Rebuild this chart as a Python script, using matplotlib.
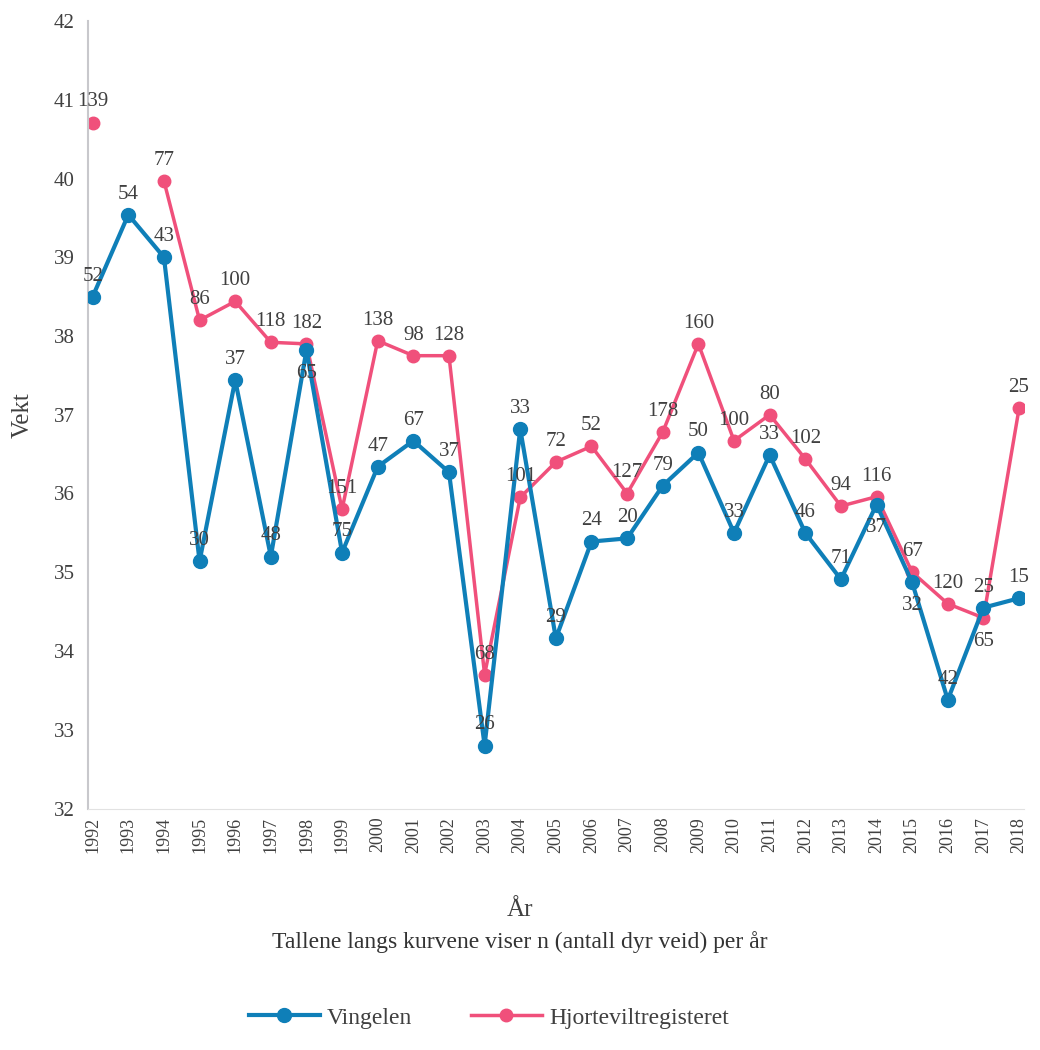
import numpy as np
import matplotlib
matplotlib.use("Agg")
import matplotlib.pyplot as plt

years = list(range(1992, 2019))

vingelen = [38.5, 39.54, 39.0, 35.14, 37.44, 35.2, 37.82, 35.25, 36.34, 36.67, 36.27,
            32.8, 36.82, 34.16, 35.39, 35.43, 36.1, 36.52, 35.5, 36.49, 35.5, 34.91,
            35.86, 34.87, 33.38, 34.55, 34.67]
vingelen_n = [52, 54, 43, 30, 37, 48, 65, 75, 47, 67, 37, 26, 33, 29, 24, 20, 79, 50,
              33, 33, 46, 71, 37, 32, 42, 25, 15]

hjort = [40.71, np.nan, 39.97, 38.2, 38.44, 37.92, 37.9, 35.8, 37.94, 37.75, 37.75,
         33.7, 35.95, 36.4, 36.6, 36.0, 36.78, 37.9, 36.67, 37.0, 36.44, 35.84,
         35.96, 35.0, 34.6, 34.42, 37.08]
hjort_n = [139, None, 77, 86, 100, 118, 182, 151, 138, 98, 128, 68, 101, 72, 52, 127,
           178, 160, 100, 80, 102, 94, 116, 67, 120, 65, 25]

# labels that would collide: put the blue one under its point (pink one under for 2017)
blue_below = [1998, 2014, 2015]
pink_below = [2017]

blue = "#0f7fb8"
pink = "#f0507b"
txt = "#404040"

plt.rcParams["font.family"] = ["Liberation Serif", "DejaVu Serif"]

fig = plt.figure(figsize=(10.4, 10.5), dpi=100)
ax = fig.add_axes([0.085, 0.23, 0.9, 0.75])

ax.plot(years, vingelen, color=blue, lw=3, marker="o", ms=10, label="Vingelen", zorder=3)
ax.plot(years, hjort, color=pink, lw=2.5, marker="o", ms=9, label="Hjorteviltregisteret",
        zorder=2)


def label(x, y, n, below):
    if below:
        ax.annotate(str(n), (x, y), xytext=(0, -10), textcoords="offset points",
                    ha="center", va="top", fontsize=15, color=txt)
    else:
        ax.annotate(str(n), (x, y), xytext=(0, 8), textcoords="offset points",
                    ha="center", va="bottom", fontsize=15, color=txt)


for x, y, n in zip(years, vingelen, vingelen_n):
    label(x, y, n, x in blue_below)
for x, y, n in zip(years, hjort, hjort_n):
    if n is None:
        continue
    label(x, y, n, x in pink_below)

ax.set_xlim(1991.88, 2018.15)
ax.set_ylim(32, 42)
ax.set_yticks(range(32, 43))
ax.set_xticks(years)
ax.set_xticklabels([str(y) for y in years], rotation=90, fontsize=13, color=txt)
ax.tick_params(axis="y", labelsize=15, labelcolor=txt, length=0, pad=10)
ax.tick_params(axis="x", length=0, pad=6)

for s in ["top", "right"]:
    ax.spines[s].set_visible(False)
ax.spines["left"].set_color("#c8c8cc")
ax.spines["bottom"].set_color("#e2e2e2")
ax.spines["left"].set_linewidth(1.5)

ax.set_ylabel("Vekt", fontsize=18, color=txt, labelpad=14)

fig.text(0.5, 0.128, "År", ha="center", fontsize=18, color=txt)
fig.text(0.5, 0.097, "Tallene langs kurvene viser n (antall dyr veid) per år",
         ha="center", fontsize=17, color="#333333")

fig.legend(loc="lower center", bbox_to_anchor=(0.47, 0.0), ncol=2, frameon=False,
           fontsize=17, handlelength=3, columnspacing=2.5, labelcolor=txt,
           handletextpad=0.3)

fig.savefig("out.png", dpi=100, facecolor="white")
